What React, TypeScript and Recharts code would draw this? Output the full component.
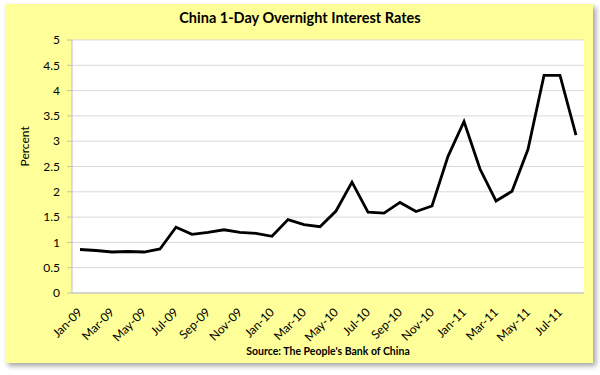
import React from 'react';
import { LineChart, Line, XAxis, YAxis, CartesianGrid } from 'recharts';

// monthly overnight rates, Jan-09 .. Aug-11
const months = [
  'Jan-09', 'Feb-09', 'Mar-09', 'Apr-09', 'May-09', 'Jun-09', 'Jul-09', 'Aug-09',
  'Sep-09', 'Oct-09', 'Nov-09', 'Dec-09', 'Jan-10', 'Feb-10', 'Mar-10', 'Apr-10',
  'May-10', 'Jun-10', 'Jul-10', 'Aug-10', 'Sep-10', 'Oct-10', 'Nov-10', 'Dec-10',
  'Jan-11', 'Feb-11', 'Mar-11', 'Apr-11', 'May-11', 'Jun-11', 'Jul-11', 'Aug-11',
];
const rates = [
  0.86, 0.84, 0.81, 0.82, 0.81, 0.87, 1.3, 1.16,
  1.2, 1.25, 1.2, 1.18, 1.12, 1.45, 1.35, 1.31,
  1.62, 2.19, 1.6, 1.58, 1.79, 1.61, 1.72, 2.7,
  3.39, 2.45, 1.82, 2.01, 2.84, 4.3, 4.3, 3.12,
];
const yTicks = [0, 0.5, 1, 1.5, 2, 2.5, 3, 3.5, 4, 4.5, 5];

const data = months.map((month, i) => ({ month, rate: rates[i] }));

const FONT = 'Lato, "Liberation Sans", sans-serif';

const MonthTick = (props: any) => {
  const { x, y, payload } = props;
  return (
    <g transform={`translate(${x + 3},${y + 20})`}>
      <text textAnchor="end" transform="rotate(-45)" fontSize={12} fill="#000" fontFamily={FONT}>
        {payload.value}
      </text>
    </g>
  );
};

export default function App() {
  return (
    <div style={{ position: 'fixed', left: 0, top: 0, width: 600, height: 375, background: '#fff' }}>
      <div
        style={{
          position: 'absolute', left: 5, top: 4, width: 588, height: 359,
          background: '#ffff99', boxShadow: '3px 3px 5px rgba(0,0,0,0.35)',
        }}
      />
      <div
        style={{
          position: 'absolute', left: 0, top: 9, width: 600, textAlign: 'center',
          fontFamily: FONT, fontWeight: 'bold', fontSize: 14.5, color: '#000',
        }}
      >
        China 1-Day Overnight Interest Rates
      </div>
      <div
        style={{
          position: 'absolute', left: 72, top: 345, width: 512, textAlign: 'center',
          fontFamily: FONT, fontWeight: 'bold', fontSize: 10.5, color: '#000',
        }}
      >
        Source: The People's Bank of China
      </div>
      <div style={{ position: 'absolute', left: 0, top: 0 }}>
        <LineChart width={600} height={375} data={data} margin={{ top: 40, right: 16, bottom: 0, left: 0 }}>
          <CartesianGrid vertical={false} stroke="#d9d9d9" fill="#ffffff" />
          <XAxis
            dataKey="month"
            interval={1}
            height={82}
            tickLine={false}
            tickSize={0}
            tickMargin={0}
            axisLine={{ stroke: '#bfbfbf' }}
            padding={{ left: 8, right: 8 }}
            tick={<MonthTick />}
          />
          <YAxis
            domain={[0, 5]}
            ticks={yTicks}
            width={72}
            tickSize={5}
            tickMargin={7}
            axisLine={{ stroke: '#bfbfbf' }}
            tickLine={{ stroke: '#bfbfbf' }}
            tick={{ fill: '#000', fontSize: 12, fontFamily: FONT }}
            label={{ value: 'Percent', angle: -90, position: 'insideLeft', offset: 25, fill: '#000', fontSize: 12, fontFamily: FONT }}
          />
          <Line
            type="linear"
            dataKey="rate"
            stroke="#000"
            strokeWidth={2.8}
            dot={false}
            isAnimationActive={false}
          />
        </LineChart>
      </div>
    </div>
  );
}
